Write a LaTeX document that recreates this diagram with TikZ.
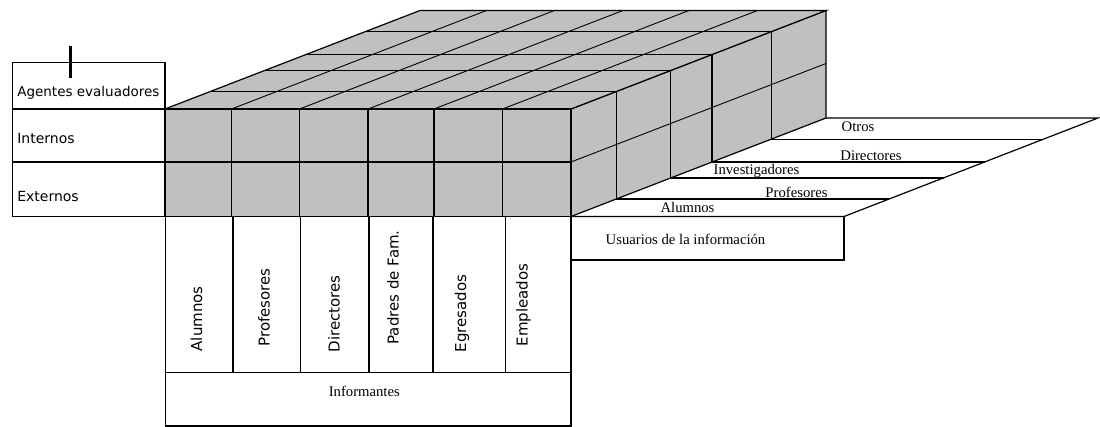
\documentclass[tikz,border=0pt]{standalone}
\usepackage{fontspec}
\usepackage{tikz}
\newfontfamily\agentfont{DejaVu Sans}
\newfontfamily\userfont{Liberation Serif}
\definecolor{cubegray}{HTML}{C0C0C0}

\begin{document}
\begin{tikzpicture}[
    x=1pt, y=-1pt,
    line width=1.2pt,
    face/.style={
		fill=cubegray,
		draw=black
	},
	edge/.style={
		draw=black,
		line width=0.9pt
	},
	agent/.style={
		anchor=base west,
		inner sep=0pt,
		font=\agentfont\fontsize{14}{16}\selectfont
	},
	informer/.style={
		rotate=90,
		anchor=west,
		inner sep=0pt,
		font=\agentfont\fontsize{15}{17}\selectfont
	},
	user/.style={
		anchor=base,
		inner sep=0pt,
		font=\userfont\fontsize{14.7}{17}\selectfont
	}
  ]
  \useasboundingbox (0,0) rectangle (1100,427);

    % We start with the floor of the users
  \draw (571,216.5) -- (844,216.5) -- (1098,118) -- (826,118);
  \draw (616.1,199.1) -- (889.1,199.1);
  \draw (670.5,178.1) -- (943.5,178.1);
  \draw (712,162) -- (985,162);
  \draw (771.2,139.2) -- (1044.2,139.2);

    % the block: right face, top face, front face
  \draw [face] (571,109) -- (826,10.5) -- (826,118) -- (571,216.5) -- cycle;
  \draw [face] (165,109) -- (420,10.5) -- (826,10.5) -- (571,109) -- cycle;
  \draw [face] (165,109) rectangle (571,216.5);

  \draw [edge] (571,162) -- (826,63.5);
  \draw (616.1,91.6) -- (616.1,199.1);
  \draw (670.5,70.6) -- (670.5,178.1);
  \draw (712,54.5) -- (712,162);
  \draw (771.2,31.7) -- (771.2,139.2);

  \draw (210.1,91.6) -- (616.1,91.6);
  \draw (264.5,70.6) -- (670.5,70.6);
  \draw (306,54.5) -- (712,54.5);
  \draw (365.2,31.7) -- (771.2,31.7);

  \draw [edge] (231.5,109) -- (486.5,10.5);
  \draw [edge] (299.5,109) -- (554.5,10.5);
  \draw [edge] (368,109) -- (623,10.5);
  \draw [edge] (434,109) -- (689,10.5);
  \draw [edge] (502.5,109) -- (757.5,10.5);

  \draw (165,162) -- (571,162);
  \draw (231.5,109) -- (231.5,216.5);
  \draw (299.5,109) -- (299.5,216.5);
  \draw (368,109) -- (368,216.5);
  \draw (434,109) -- (434,216.5);
  \draw (502.5,109) -- (502.5,216.5);

    % the table of the agents
  \draw (12.3,62.5) rectangle (165,216.5);
  \draw (12.3,109) -- (165,109);
  \draw (12.3,162) -- (165,162);
  \draw [line width=2.5pt] (70.7,45.7) -- (70.7,78.5);

  \node [agent, font=\agentfont\fontsize{13.5}{16}\selectfont] (agentes) at (16.7,96.3) {Agentes evaluadores};
  \node [agent] (internos) at (16.7,144) {Internos};
  \node [agent] (externos) at (16.7,201.7) {Externos};

    % the informers below the block
  \draw (165.5,216.5) rectangle (571,426);
  \draw (165.5,372.5) -- (571,372.5);
  \draw (233,216.5) -- (233,372.5);
  \draw (300.5,216.5) -- (300.5,372.5);
  \draw (369,216.5) -- (369,372.5);
  \draw (433,216.5) -- (433,372.5);
  \draw (505.5,216.5) -- (505.5,372.5);

  \node [informer] (alumnos) at (196.5,352) {Alumnos};
  \node [informer] (profesores) at (264,347) {Profesores};
  \node [informer] (directores) at (334,353) {Directores};
  \node [informer] (padres) at (393,345) {Padres de Fam.};
  \node [informer] (egresados) at (462,353) {Egresados};
  \node [informer] (empleados) at (523.5,347) {Empleados};
  \node [user] (informantes) at (364.3,396) {Informantes};

    % the users of the information
  \draw (571,216.5) rectangle (844,260);
  \node [user] (usuarios) at (685.5,245) {Usuarios de la información};
  \node [user] (ualumnos) at (687.5,212.3) {Alumnos};
  \node [user] (uprofesores) at (796.5,197.7) {Profesores};
  \node [user] (uinvestigadores) at (756.5,175) {Investigadores};
  \node [user] (udirectores) at (871,161) {Directores};
  \node [user] (uotros) at (858,131.7) {Otros};

\end{tikzpicture}
\end{document}
